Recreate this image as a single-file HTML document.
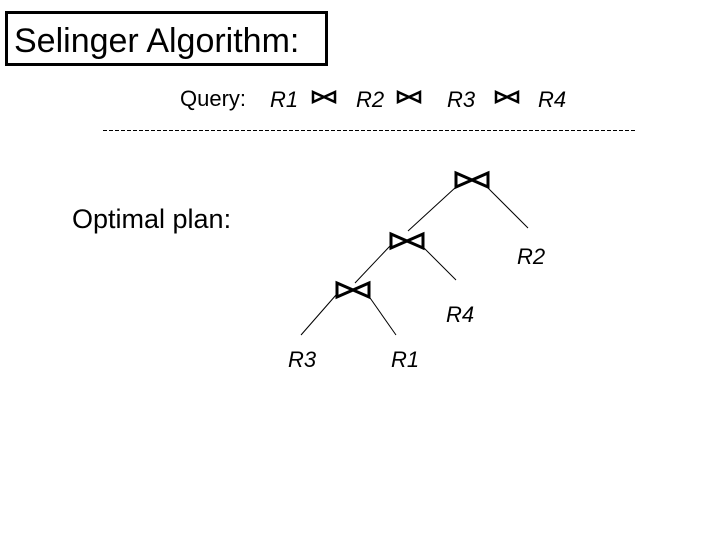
<!DOCTYPE html>
<html><head><style>
body{margin:0;background:#fff;}
svg{display:block}
text{font-family:"Liberation Sans",Arial,sans-serif;fill:#000}
</style></head><body>
<svg width="720" height="540" viewBox="0 0 720 540" xmlns="http://www.w3.org/2000/svg">
<defs>
<g id="bt"><polygon points="0,0 16,7 0,14" fill="none" stroke="#000" stroke-width="3"/><polygon points="32,0 16,7 32,14" fill="none" stroke="#000" stroke-width="3"/></g>
<g id="bs"><polygon points="0,0 11,5 0,10" fill="none" stroke="#000" stroke-width="2.5"/><polygon points="22,0 11,5 22,10" fill="none" stroke="#000" stroke-width="2.5"/></g>
</defs>
<rect x="6.5" y="12.5" width="320" height="52" fill="none" stroke="#000" stroke-width="3"/>
<text x="14" y="52" font-size="34">Selinger Algorithm:</text>
<text x="180" y="106" font-size="22">Query:</text>
<text x="270" y="107" font-size="22" font-style="italic">R1</text>
<use href="#bs" x="313" y="92"/>
<text x="356" y="107" font-size="22" font-style="italic">R2</text>
<use href="#bs" x="398" y="92"/>
<text x="447" y="107" font-size="22" font-style="italic">R3</text>
<use href="#bs" x="496" y="92"/>
<text x="538" y="107" font-size="22" font-style="italic">R4</text>
<line x1="103" y1="130.5" x2="636" y2="130.5" stroke="#000" stroke-width="1" stroke-dasharray="4,2"/>
<text x="72" y="228" font-size="27">Optimal plan:</text>
<use href="#bt" x="456" y="173"/>
<use href="#bt" x="391" y="234"/>
<use href="#bt" x="337" y="283"/>
<g stroke="#000" stroke-width="1">
<line x1="456" y1="187" x2="408" y2="231"/>
<line x1="487" y1="187" x2="528" y2="228"/>
<line x1="390" y1="246" x2="355" y2="283"/>
<line x1="423" y1="247" x2="456" y2="280"/>
<line x1="336" y1="295" x2="301" y2="335"/>
<line x1="368" y1="295" x2="396" y2="335"/>
</g>
<text x="517" y="264" font-size="22" font-style="italic">R2</text>
<text x="446" y="322" font-size="22" font-style="italic">R4</text>
<text x="288" y="367" font-size="22" font-style="italic">R3</text>
<text x="391" y="367" font-size="22" font-style="italic">R1</text>
</svg>
</body></html>
